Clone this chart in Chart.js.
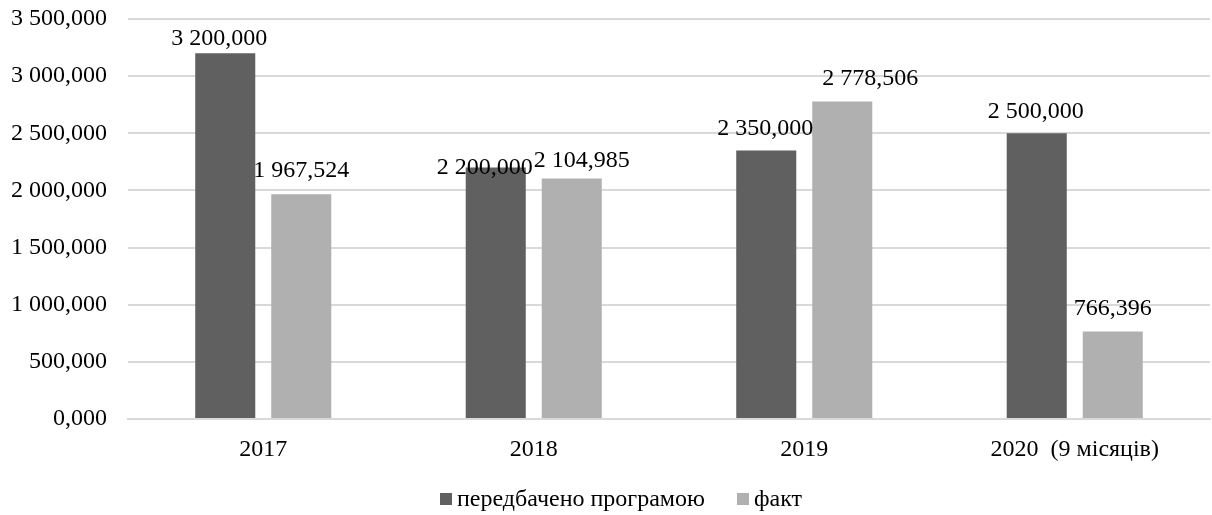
<!DOCTYPE html>
<html>
<head>
<meta charset="utf-8">
<script src="https://cdn.jsdelivr.net/npm/chart.js@4/dist/chart.umd.min.js"></script>
<style>
    html, body { margin: 0; padding: 0; background: #fff; }
    #wrap { width: 1212px; height: 515px; }
</style>
</head>
<body>
<div id="wrap"><canvas id="chart"></canvas></div>
<script>
const years = ['2017', '2018', '2019', '2020  (9 місяців)'];
const planned = [3200, 2200, 2350, 2500];
const actual = [1967.524, 2104.985, 2778.506, 766.396];
const seriesNames = ['передбачено програмою', 'факт'];

const FONT = '"Liberation Serif", "Times New Roman", serif';
const FONT_SIZE = 24;

// hand-placed captions: [dx, dy] from the top centre of each bar
const labelNudge = [
    [[-6, -8], [-11, 6], [-1, -15], [-1, -15]],
    [[0, -17], [10, -11], [28, -16], [0, -16]]
];

// 3 500,000 style numbers: space groups, comma decimals
function fmt(v) {
    const parts = Number(v).toFixed(3).split('.');
    const intPart = parts[0].replace(/\B(?=(\d{3})+(?!\d))/g, ' ');
    return intPart + ',' + parts[1];
}

// value captions above each bar
const barLabels = {
    id: 'barLabels',
    afterDatasetsDraw(chart) {
        const ctx = chart.ctx;
        ctx.save();
        ctx.font = FONT_SIZE + 'px ' + FONT;
        ctx.fillStyle = '#000';
        ctx.textAlign = 'center';
        ctx.textBaseline = 'alphabetic';
        chart.data.datasets.forEach((ds, i) => {
            chart.getDatasetMeta(i).data.forEach((bar, j) => {
                const [dx, dy] = labelNudge[i][j];
                ctx.fillText(fmt(ds.data[j]), bar.x + dx, bar.y + dy);
            });
        });
        ctx.restore();
    }
};

// compact legend row under the axis: small square, short gap, name
const bottomLegend = {
    id: 'bottomLegend',
    afterDraw(chart) {
        const ctx = chart.ctx;
        const box = 12, gap = 5, spacing = 32;
        ctx.save();
        ctx.font = FONT_SIZE + 'px ' + FONT;
        ctx.textBaseline = 'alphabetic';
        ctx.textAlign = 'left';
        const items = chart.data.datasets.map(ds => ({
            text: ds.label,
            color: ds.backgroundColor,
            w: box + gap + ctx.measureText(ds.label).width
        }));
        const total = items.reduce((s, it) => s + it.w, 0) + spacing * (items.length - 1);
        let x = (chart.width - total) / 2 + 15;
        const baseline = chart.height - 9;
        items.forEach(it => {
            ctx.fillStyle = it.color;
            ctx.fillRect(x, baseline - 13, box, box);
            ctx.fillStyle = '#000';
            ctx.fillText(it.text, x + box + gap, baseline);
            x += it.w + spacing;
        });
        ctx.restore();
    }
};

new Chart(document.getElementById('chart'), {
    type: 'bar',
    data: {
        labels: years,
        datasets: [
            { label: seriesNames[0], data: planned, backgroundColor: '#606060' },
            { label: seriesNames[1], data: actual, backgroundColor: '#b0b0b0' }
        ]
    },
    options: {
        responsive: true,
        maintainAspectRatio: false,
        animation: false,
        categoryPercentage: 0.562,
        barPercentage: 0.79,
        layout: { padding: { top: 19, right: 2, left: 0, bottom: 46 } },
        plugins: {
            legend: { display: false },
            tooltip: { enabled: false }
        },
        scales: {
            x: {
                afterFit(scale) {
                    scale.height = 50;
                    scale.paddingLeft = 0;
                    scale.paddingRight = 0;
                },
                grid: { display: false },
                border: { color: '#d9d9d9', width: 2 },
                ticks: {
                    font: { family: FONT, size: FONT_SIZE },
                    color: '#000',
                    padding: 8,
                    maxRotation: 0
                }
            },
            y: {
                min: 0,
                max: 3500,
                afterFit(scale) {
                    scale.width = 128;
                    scale.paddingTop = 0;
                    scale.paddingBottom = 0;
                },
                grid: { color: '#d9d9d9', lineWidth: 2, drawTicks: false },
                border: { display: false },
                ticks: {
                    stepSize: 500,
                    font: { family: FONT, size: FONT_SIZE },
                    color: '#000',
                    padding: 21,
                    callback: v => fmt(v)
                }
            }
        }
    },
    plugins: [barLabels, bottomLegend]
});
</script>
</body>
</html>
